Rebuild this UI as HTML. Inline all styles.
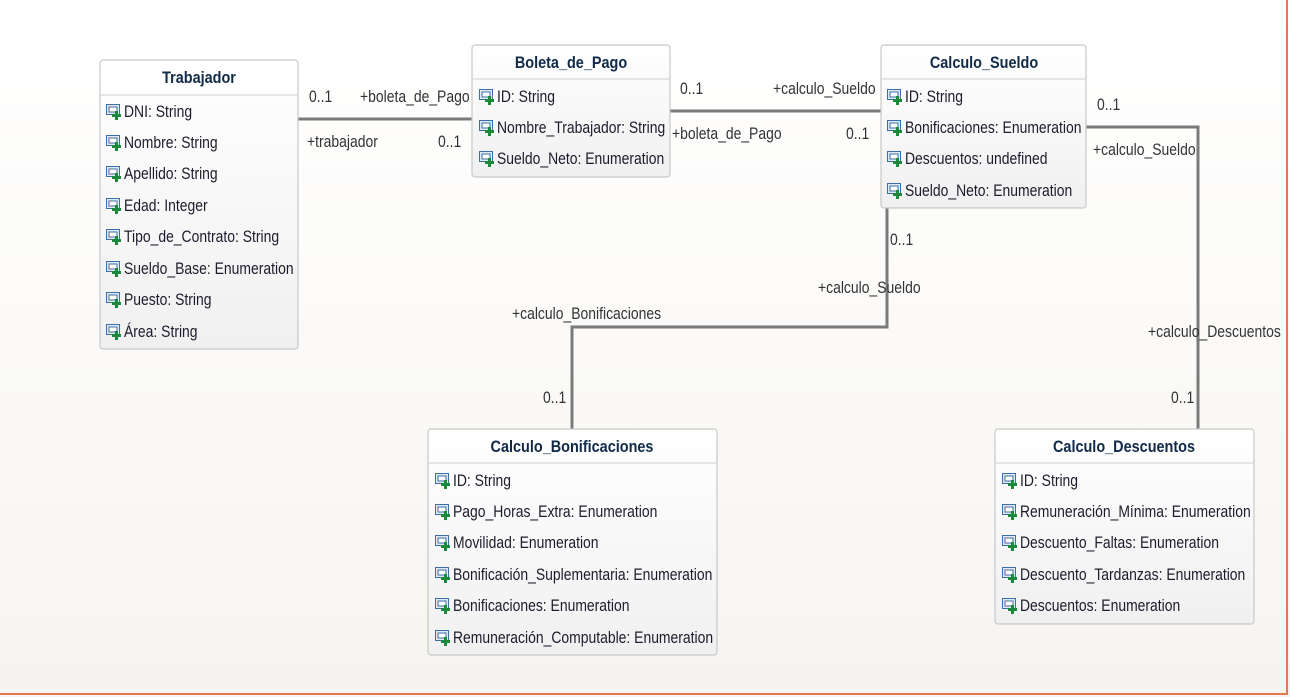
<!DOCTYPE html>
<html><head><meta charset="utf-8"><style>
html,body{margin:0;padding:0;}
body{width:1290px;height:697px;overflow:hidden;background:linear-gradient(#ffffff 0%,#fbfaf8 50%,#f6f4f1 100%);}
svg{position:absolute;left:0;top:0;}
text{font-family:"Liberation Sans",sans-serif;font-size:17px;fill:#1c1c2c;}
.t{font-weight:bold;fill:#102a48;}
.l{fill:#333;font-size:17px;}
</style></head><body>
<svg width="1290" height="697" viewBox="0 0 1290 697">
<defs>
<linearGradient id="bx" x1="0" y1="0" x2="0" y2="1"><stop offset="0" stop-color="#ffffff"/><stop offset="1" stop-color="#f0f0f0"/></linearGradient>
<g id="ic">
<rect x="0.5" y="0.5" width="13" height="10" fill="#dfeaf5" stroke="#3a6ea8" stroke-width="1"/>
<rect x="3" y="3" width="8" height="5" fill="#fff" stroke="#3a6ea8" stroke-width="1"/>
<rect x="9" y="7" width="3" height="9" fill="#1a8a3a"/>
<rect x="6" y="10" width="9" height="3" fill="#1a8a3a"/>
</g>
</defs>
<rect x="1286" y="0" width="2" height="695" fill="#e8764e"/>
<rect x="0" y="693" width="1288" height="2" fill="#e8764e"/>

<g stroke="#7a7a7a" stroke-width="3" fill="none">
<line x1="298" y1="119" x2="472" y2="119"/>
<line x1="670" y1="111" x2="881" y2="111"/>
<polyline points="1086,127 1198,127 1198,429"/>
<polyline points="887,208 887,327 572,327 572,429"/>
</g>

<g stroke="#c8c8c8" stroke-width="1.2" fill="url(#bx)">
<rect x="100" y="60" width="198" height="289" rx="3"/>
<rect x="472" y="45" width="198" height="132" rx="3"/>
<rect x="881" y="45" width="205" height="163" rx="3"/>
<rect x="428" y="429" width="289" height="226" rx="3"/>
<rect x="995" y="429" width="259" height="195" rx="3"/>
</g>
<g stroke="#cfcfcf" stroke-width="1">
<line x1="100" y1="95" x2="298" y2="95"/>
<line x1="472" y1="79" x2="670" y2="79"/>
<line x1="881" y1="79" x2="1086" y2="79"/>
<line x1="428" y1="463" x2="717" y2="463"/>
<line x1="995" y1="463" x2="1254" y2="463"/>
</g>

<text class="t" text-anchor="middle" transform="translate(199,83) scale(0.85,1)">Trabajador</text>
<text class="t" text-anchor="middle" transform="translate(571,68) scale(0.85,1)">Boleta_de_Pago</text>
<text class="t" text-anchor="middle" transform="translate(984,68) scale(0.85,1)">Calculo_Sueldo</text>
<text class="t" text-anchor="middle" transform="translate(572,452) scale(0.85,1)">Calculo_Bonificaciones</text>
<text class="t" text-anchor="middle" transform="translate(1124,452) scale(0.85,1)">Calculo_Descuentos</text>

<use href="#ic" x="106" y="104"/><text transform="translate(124,117) scale(0.82,1)">DNI: String</text>
<use href="#ic" x="106" y="135"/><text transform="translate(124,148) scale(0.82,1)">Nombre: String</text>
<use href="#ic" x="106" y="166"/><text transform="translate(124,179) scale(0.82,1)">Apellido: String</text>
<use href="#ic" x="106" y="198"/><text transform="translate(124,211) scale(0.82,1)">Edad: Integer</text>
<use href="#ic" x="106" y="229"/><text transform="translate(124,242) scale(0.82,1)">Tipo_de_Contrato: String</text>
<use href="#ic" x="106" y="261"/><text transform="translate(124,274) scale(0.82,1)">Sueldo_Base: Enumeration</text>
<use href="#ic" x="106" y="292"/><text transform="translate(124,305) scale(0.82,1)">Puesto: String</text>
<use href="#ic" x="106" y="324"/><text transform="translate(124,337) scale(0.82,1)">Área: String</text>

<use href="#ic" x="479" y="89"/><text transform="translate(497,102) scale(0.82,1)">ID: String</text>
<use href="#ic" x="479" y="120"/><text transform="translate(497,133) scale(0.82,1)">Nombre_Trabajador: String</text>
<use href="#ic" x="479" y="151"/><text transform="translate(497,164) scale(0.82,1)">Sueldo_Neto: Enumeration</text>

<use href="#ic" x="887" y="89"/><text transform="translate(905,102) scale(0.82,1)">ID: String</text>
<use href="#ic" x="887" y="120"/><text transform="translate(905,133) scale(0.82,1)">Bonificaciones: Enumeration</text>
<use href="#ic" x="887" y="151"/><text transform="translate(905,164) scale(0.82,1)">Descuentos: undefined</text>
<use href="#ic" x="887" y="183"/><text transform="translate(905,196) scale(0.82,1)">Sueldo_Neto: Enumeration</text>

<use href="#ic" x="435" y="473"/><text transform="translate(453,486) scale(0.82,1)">ID: String</text>
<use href="#ic" x="435" y="504"/><text transform="translate(453,517) scale(0.82,1)">Pago_Horas_Extra: Enumeration</text>
<use href="#ic" x="435" y="535"/><text transform="translate(453,548) scale(0.82,1)">Movilidad: Enumeration</text>
<use href="#ic" x="435" y="567"/><text transform="translate(453,580) scale(0.82,1)">Bonificación_Suplementaria: Enumeration</text>
<use href="#ic" x="435" y="598"/><text transform="translate(453,611) scale(0.82,1)">Bonificaciones: Enumeration</text>
<use href="#ic" x="435" y="630"/><text transform="translate(453,643) scale(0.82,1)">Remuneración_Computable: Enumeration</text>

<use href="#ic" x="1002" y="473"/><text transform="translate(1020,486) scale(0.82,1)">ID: String</text>
<use href="#ic" x="1002" y="504"/><text transform="translate(1020,517) scale(0.82,1)">Remuneración_Mínima: Enumeration</text>
<use href="#ic" x="1002" y="535"/><text transform="translate(1020,548) scale(0.82,1)">Descuento_Faltas: Enumeration</text>
<use href="#ic" x="1002" y="567"/><text transform="translate(1020,580) scale(0.82,1)">Descuento_Tardanzas: Enumeration</text>
<use href="#ic" x="1002" y="598"/><text transform="translate(1020,611) scale(0.82,1)">Descuentos: Enumeration</text>

<text class="l" transform="translate(309,102) scale(0.82,1)">0..1</text>
<text class="l" transform="translate(360,102) scale(0.82,1)">+boleta_de_Pago</text>
<text class="l" transform="translate(307,147) scale(0.82,1)">+trabajador</text>
<text class="l" transform="translate(438,147) scale(0.82,1)">0..1</text>
<text class="l" transform="translate(680,94) scale(0.82,1)">0..1</text>
<text class="l" transform="translate(773,94) scale(0.82,1)">+calculo_Sueldo</text>
<text class="l" transform="translate(672,139) scale(0.82,1)">+boleta_de_Pago</text>
<text class="l" transform="translate(846,139) scale(0.82,1)">0..1</text>
<text class="l" transform="translate(1097,110) scale(0.82,1)">0..1</text>
<text class="l" transform="translate(1093,155) scale(0.82,1)">+calculo_Sueldo</text>
<text class="l" transform="translate(890,245) scale(0.82,1)">0..1</text>
<text class="l" transform="translate(818,293) scale(0.82,1)">+calculo_Sueldo</text>
<text class="l" transform="translate(512,319) scale(0.82,1)">+calculo_Bonificaciones</text>
<text class="l" transform="translate(543,403) scale(0.82,1)">0..1</text>
<text class="l" transform="translate(1148,337) scale(0.82,1)">+calculo_Descuentos</text>
<text class="l" transform="translate(1171,403) scale(0.82,1)">0..1</text>
</svg>
</body></html>
